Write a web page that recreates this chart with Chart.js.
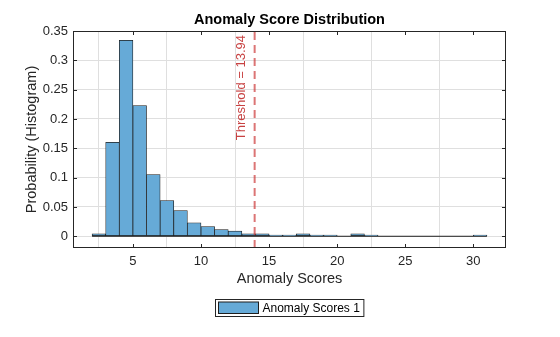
<!DOCTYPE html>
<html>
<head>
<meta charset="utf-8">
<script src="https://cdn.jsdelivr.net/npm/chart.js@4/dist/chart.umd.min.js"></script>
<style>
  html, body { margin: 0; padding: 0; background: #fff; }
</style>
</head>
<body>
<canvas id="chart" width="560" height="337"></canvas>
<script>
// histogram bins (edges) and probability per bin
const binEdges = [2, 3, 4, 5, 6, 7, 8, 9, 10, 11, 12, 13, 14, 15, 16, 17, 18, 19, 20, 21, 22, 23, 24, 25, 26, 27, 28, 29, 30, 31];
const binProbs = [0.004, 0.160, 0.334, 0.223, 0.105, 0.061, 0.044, 0.023, 0.0165, 0.0115,
                  0.009, 0.004, 0.004, 0.002, 0.002, 0.004, 0.002, 0.002, 0, 0.004,
                  0.002, 0, 0, 0, 0, 0, 0, 0, 0.002];
const threshold = 13.94;
const xTicks = [5, 10, 15, 20, 25, 30];
const yTicks = [0, 0.05, 0.1, 0.15, 0.2, 0.25, 0.3, 0.35];
const xRange = [0.6, 32.4];
const yRange = [-0.02, 0.35];
const seriesName = 'Anomaly Scores 1';

const fontFamily = '"Liberation Sans", Arial, Helvetica, sans-serif';
const axisColor = '#262626';
const barFill = 'rgb(102,170,215)';
const barEdge = '#1e1e1e';

// bars sit in the middle of each bin
const histPoints = binProbs.map((p, i) => ({ x: (binEdges[i] + binEdges[i + 1]) / 2, y: p }));

const decorPlugin = {
    id: 'decor',
    afterDraw(chart) {
        const ctx = chart.ctx;
        const area = chart.chartArea;
        const xs = chart.scales.x, ys = chart.scales.y;
        ctx.save();

        // axes box
        ctx.strokeStyle = axisColor;
        ctx.lineWidth = 1;
        ctx.strokeRect(area.left + 0.5, area.top + 0.5, area.right - area.left - 1, area.bottom - area.top - 1);

        // ticks pointing inwards, like matlab
        ctx.beginPath();
        xs.ticks.forEach(t => {
            const px = Math.round(xs.getPixelForValue(t.value)) + 0.5;
            ctx.moveTo(px, area.bottom); ctx.lineTo(px, area.bottom - 4);
            ctx.moveTo(px, area.top); ctx.lineTo(px, area.top + 4);
        });
        ys.ticks.forEach(t => {
            const py = Math.round(ys.getPixelForValue(t.value)) + 0.5;
            ctx.moveTo(area.left, py); ctx.lineTo(area.left + 4, py);
            ctx.moveTo(area.right, py); ctx.lineTo(area.right - 4, py);
        });
        ctx.stroke();

        // threshold label, rotated next to the line
        const tx = xs.getPixelForValue(threshold);
        ctx.save();
        ctx.translate(tx - 13, area.top + 4);
        ctx.rotate(-Math.PI / 2);
        ctx.font = '13px ' + fontFamily;
        ctx.fillStyle = 'rgb(200,66,66)';
        ctx.textAlign = 'right';
        ctx.textBaseline = 'middle';
        ctx.fillText('Threshold = ' + threshold.toFixed(2), 0, 0);
        ctx.restore();

        // title
        const cx = (area.left + area.right) / 2;
        ctx.font = 'bold 14.5px ' + fontFamily;
        ctx.fillStyle = '#000';
        ctx.textAlign = 'center';
        ctx.textBaseline = 'alphabetic';
        ctx.fillText('Anomaly Score Distribution', cx, 24);

        // legend box under the axis label
        ctx.font = '12px ' + fontFamily;
        const tw = ctx.measureText(seriesName).width;
        const boxW = 3 + 40 + 4 + tw + 4;
        const boxL = Math.round(cx - boxW / 2) + 0.5;
        const boxT = 299.5, boxH = 17;
        ctx.fillStyle = '#fff';
        ctx.fillRect(boxL, boxT, boxW, boxH);
        ctx.strokeStyle = axisColor;
        ctx.strokeRect(boxL, boxT, boxW, boxH);
        ctx.fillStyle = barFill;
        ctx.fillRect(boxL + 3, boxT + 2.5, 40, 11.5);
        ctx.strokeStyle = barEdge;
        ctx.strokeRect(boxL + 3, boxT + 2.5, 40, 11.5);
        ctx.fillStyle = '#000';
        ctx.textAlign = 'left';
        ctx.textBaseline = 'middle';
        ctx.fillText(seriesName, boxL + 47, boxT + boxH / 2 + 0.5);

        ctx.restore();
    }
};

const ctx = document.getElementById('chart').getContext('2d');
const chart = new Chart(ctx, {
    type: 'bar',
    data: {
        datasets: [{
            label: seriesName,
            data: histPoints,
            backgroundColor: barFill,
            borderColor: barEdge,
            borderWidth: 0.75,
            borderSkipped: false,
            barPercentage: 1,
            categoryPercentage: 1,
            order: 2
        }, {
            // bottom edges of the bins (zero-height bins still show a line)
            type: 'line',
            label: 'base',
            data: [{ x: binEdges[0], y: 0 }, { x: binEdges[binEdges.length - 1], y: 0 }],
            borderColor: barEdge,
            borderWidth: 1,
            pointRadius: 0,
            order: 1
        }, {
            type: 'line',
            label: 'threshold',
            data: [{ x: threshold, y: yRange[0] }, { x: threshold, y: yRange[1] }],
            borderColor: 'rgba(204,51,51,0.68)',
            borderWidth: 2,
            borderDash: [8, 5],
            pointRadius: 0,
            order: 0
        }]
    },
    options: {
        responsive: false,
        animation: false,
        devicePixelRatio: 1,
        layout: { padding: { top: 31, right: 54, left: 0, bottom: 44 } },
        plugins: {
            legend: { display: false },
            title: { display: false },
            tooltip: { enabled: false }
        },
        scales: {
            x: {
                type: 'linear',
                min: xRange[0],
                max: xRange[1],
                offset: false,
                afterBuildTicks: scale => { scale.ticks = xTicks.map(v => ({ value: v })); },
                afterFit: scale => { scale.height = 45; },
                grid: { color: '#dfdfdf', drawTicks: false },
                border: { display: false },
                ticks: {
                    padding: 6,
                    color: axisColor,
                    font: { family: fontFamily, size: 13 },
                    maxRotation: 0
                },
                title: {
                    display: true,
                    text: 'Anomaly Scores',
                    color: axisColor,
                    font: { family: fontFamily, size: 14.5 },
                    padding: { top: 0, bottom: 5 }
                }
            },
            y: {
                min: yRange[0],
                max: yRange[1],
                afterBuildTicks: scale => { scale.ticks = yTicks.map(v => ({ value: v })); },
                afterFit: scale => { scale.width = 73; },
                grid: { color: '#dfdfdf', drawTicks: false },
                border: { display: false },
                ticks: {
                    padding: 5,
                    color: axisColor,
                    font: { family: fontFamily, size: 13 },
                    callback: v => String(+v.toFixed(2))
                },
                title: {
                    display: true,
                    text: 'Probability (Histogram)',
                    color: axisColor,
                    font: { family: fontFamily, size: 14.5 },
                    padding: { top: 23, bottom: 0 }
                }
            }
        }
    },
    plugins: [decorPlugin]
});
</script>
</body>
</html>
